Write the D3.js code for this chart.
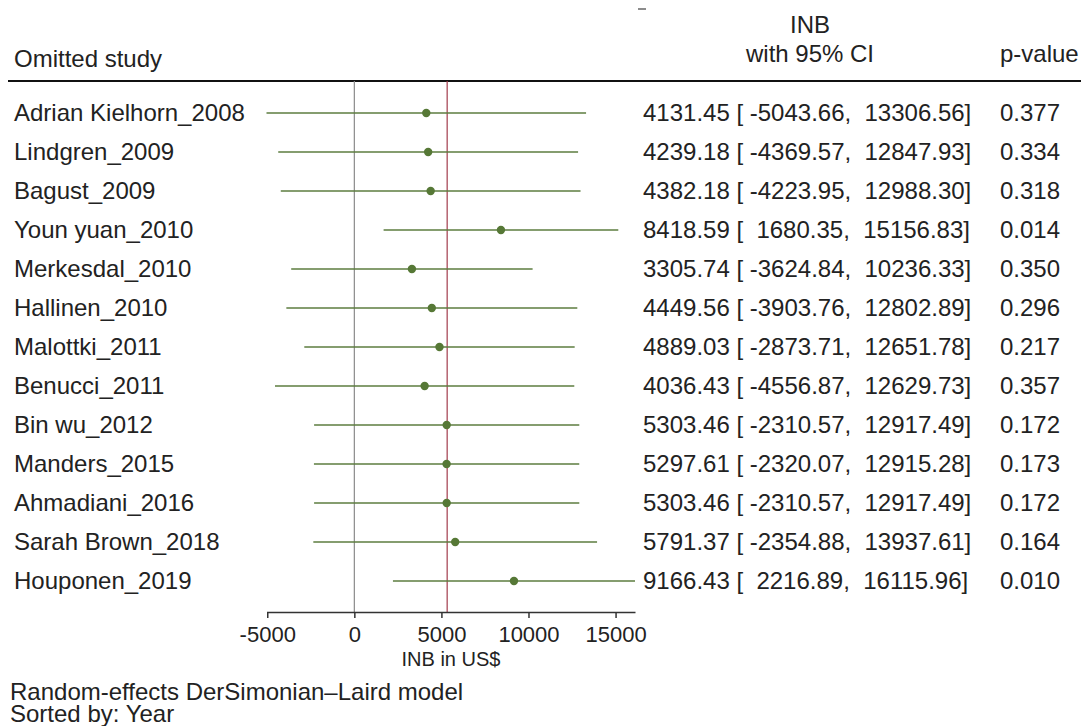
<!DOCTYPE html>
<html>
<head>
<meta charset="utf-8">
<script src="https://cdn.jsdelivr.net/npm/d3@7/dist/d3.min.js"></script>
<style>
  html, body { margin: 0; padding: 0; background: #fff; }
  svg text { font-family: "Liberation Sans", Arial, Helvetica, sans-serif; fill: #222; white-space: pre; }
</style>
</head>
<body>
<svg id="chart" width="1081" height="726"></svg>
<script>
const studies = ["Adrian Kielhorn_2008","Lindgren_2009","Bagust_2009","Youn yuan_2010","Merkesdal_2010","Hallinen_2010","Malottki_2011","Benucci_2011","Bin wu_2012","Manders_2015","Ahmadiani_2016","Sarah Brown_2018","Houponen_2019"];
const estimates = [4131.45,4239.18,4382.18,8418.59,3305.74,4449.56,4889.03,4036.43,5303.46,5297.61,5303.46,5791.37,9166.43];
const lowerCI = [-5043.66,-4369.57,-4223.95,1680.35,-3624.84,-3903.76,-2873.71,-4556.87,-2310.57,-2320.07,-2310.57,-2354.88,2216.89];
const upperCI = [13306.56,12847.93,12988.30,15156.83,10236.33,12802.89,12651.78,12629.73,12917.49,12915.28,12917.49,13937.61,16115.96];
const pValues = [0.377,0.334,0.318,0.014,0.350,0.296,0.217,0.357,0.172,0.173,0.172,0.164,0.010];
const xTicks = [-5000,0,5000,10000,15000];
const overallINB = 5330;
const nullValue = 0;

const svg = d3.select("#chart");

const x = d3.scaleLinear()
  .domain([d3.min(lowerCI), d3.max(upperCI)])
  .range([266.5, 635]);

const y = d3.scalePoint()
  .domain(studies)
  .range([113, 581]);

const axisY = 612;
const headerLineY = 81;

// header texts
svg.append("text").attr("x", 14).attr("y", 67).attr("font-size", 24).text("Omitted study");
svg.append("text").attr("x", 810).attr("y", 33).attr("font-size", 24).attr("text-anchor", "middle").text("INB");
svg.append("text").attr("x", 810).attr("y", 62).attr("font-size", 24).attr("text-anchor", "middle").text("with 95% CI");
svg.append("text").attr("x", 1000).attr("y", 62).attr("font-size", 24).text("p-value");

// small artifact dash at top
svg.append("line").attr("x1", 638).attr("x2", 646).attr("y1", 9).attr("y2", 9)
  .attr("stroke", "#666").attr("stroke-width", 1.5);

// header rule
svg.append("line").attr("x1", 8).attr("x2", 1081).attr("y1", headerLineY).attr("y2", headerLineY)
  .attr("stroke", "#111").attr("stroke-width", 2);

// reference lines
svg.append("line").attr("x1", x(nullValue)).attr("x2", x(nullValue))
  .attr("y1", headerLineY).attr("y2", axisY)
  .attr("stroke", "#8a8a8a").attr("stroke-width", 1.2);
svg.append("line").attr("x1", x(overallINB)).attr("x2", x(overallINB))
  .attr("y1", headerLineY).attr("y2", axisY)
  .attr("stroke", "#a23b4c").attr("stroke-width", 1.2);

const rows = studies.map((s, i) => ({s, est: estimates[i], lo: lowerCI[i], hi: upperCI[i], p: pValues[i]}));

// CI lines
svg.append("g").selectAll("line").data(rows).join("line")
  .attr("x1", d => x(d.lo)).attr("x2", d => x(d.hi))
  .attr("y1", d => y(d.s)).attr("y2", d => y(d.s))
  .attr("stroke", "#5c7c3f").attr("stroke-width", 1.5);

// points
svg.append("g").selectAll("circle").data(rows).join("circle")
  .attr("cx", d => x(d.est)).attr("cy", d => y(d.s)).attr("r", 4.2)
  .attr("fill", "#567836");

// labels
svg.append("g").selectAll("text").data(rows).join("text")
  .attr("x", 14).attr("y", d => y(d.s)).attr("dy", "0.35em").attr("font-size", 24)
  .text(d => d.s);

const fmt = v => v.toFixed(2);
svg.append("g").selectAll("text").data(rows).join("text")
  .attr("x", 643).attr("y", d => y(d.s)).attr("dy", "0.35em").attr("font-size", 24)
  .text(d => fmt(d.est) + " [" + (d.lo < 0 ? " " + fmt(d.lo) : "  " + fmt(d.lo)) + ",  " + fmt(d.hi) + "]");

svg.append("g").selectAll("text").data(rows).join("text")
  .attr("x", 1000).attr("y", d => y(d.s)).attr("dy", "0.35em").attr("font-size", 24)
  .text(d => d.p.toFixed(3));

// axis
const axis = d3.axisBottom(x).tickValues(xTicks).tickSize(6).tickSizeOuter(0).tickFormat(d => String(d));
const gAxis = svg.append("g").attr("transform", `translate(0,${axisY})`).call(axis);
gAxis.select(".domain").attr("stroke", "#333").attr("stroke-width", 1.5);
gAxis.selectAll(".tick line").attr("stroke", "#333").attr("stroke-width", 1.5);
gAxis.selectAll(".tick text").attr("font-size", 22).attr("fill", "#222")
  .attr("font-family", "Liberation Sans, Arial, sans-serif").attr("dy", null).attr("y", 30);

svg.append("text").attr("x", 451).attr("y", 666).attr("font-size", 20).attr("text-anchor", "middle").text("INB in US$");

// footnotes
svg.append("text").attr("x", 10).attr("y", 700).attr("font-size", 24).text("Random-effects DerSimonian\u2013Laird model");
svg.append("text").attr("x", 10).attr("y", 722).attr("font-size", 24).text("Sorted by: Year");
</script>
</body>
</html>
